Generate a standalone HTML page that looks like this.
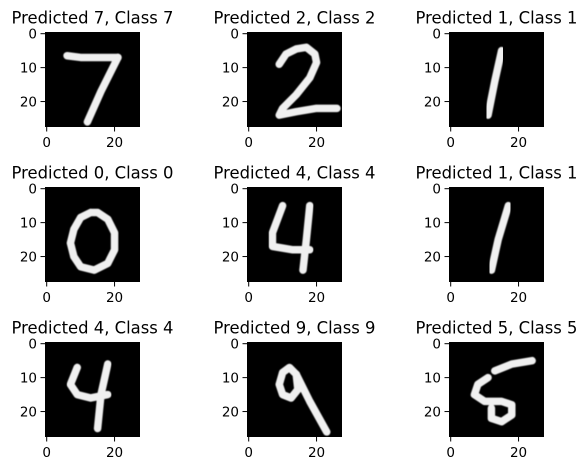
<!DOCTYPE html>
<html><head><meta charset="utf-8"><style>
html,body{margin:0;padding:0;background:#fff;}
svg{display:block;font-family:"DejaVu Sans","Liberation Sans",sans-serif;}
</style></head><body>
<svg id="fig" width="588" height="470" viewBox="0 0 588 470" xmlns="http://www.w3.org/2000/svg">
<defs><filter id="soft" x="-10%" y="-10%" width="120%" height="120%"><feGaussianBlur stdDeviation="0.4"/></filter></defs>
</svg>
<script>
const predicted = [7,2,1,0,4,1,4,9,5];
const actual = [7,2,1,0,4,1,4,9,5];
const tickValues = [0,10,20];
const xTickValues = [0,20];
// digit strokes in 28x28 pixel coordinates
const strokes = [
 [[[6,6.5],[10,7],[21,7]],[[21,7],[16,17],[12,26]]],
 [[[9,9],[11,6],[14,4.5],[17,4],[19.5,6],[20,8.5],[18,13],[14,18],[10,22],[9,24],[14,23],[20,22],[26,22]]],
 [[[15,5],[13,14],[11,24]]],
 [[[13,7],[10,8.5],[8,12],[7,16],[8,20],[10,23],[14,24],[18,22],[20,18],[20,13],[18,9],[15,7],[13,7]]],
 [[[10,5],[7,13],[7,17],[13,18],[18,18]],[[18,5],[17,15],[16,24]]],
 [[[17,5],[14,15],[12,24]]],
 [[[9,7],[7,12],[9,15],[13,16],[18,15]],[[18,6],[16,15],[15,25]]],
 [[[14,9],[12,7],[10,8.5],[9,12],[10,15],[12.5,16],[14.5,13.5],[14,9]],[[14,9],[18,17],[23,26]]],
 [[[13,8],[18,6],[24,5]],[[11,10],[8,12],[7,15],[10,17],[15,17],[18,18],[18,21],[15,23],[12,22],[12,19]]]
];
const colLeft = [45,247,449];
const rowTop = [32,187,342];
const size = 95, npx = 28;
const svg = document.getElementById('fig');
const NS = 'http://www.w3.org/2000/svg';
function mk(t, a){const e=document.createElementNS(NS,t);for(const k in a)e.setAttribute(k,a[k]);return e;}
for(let i=0;i<9;i++){
  const x0 = colLeft[i%3], y0 = rowTop[Math.floor(i/3)];
  const sx = v => x0 + (v+0.5)*size/npx;
  const sy = v => y0 + (v+0.5)*size/npx;
  const g = mk('g',{});
  
  
  svg.appendChild(g);
  const title = mk('text',{x:x0+size/2,y:y0-8.5,'text-anchor':'middle','font-size':'16.5',fill:'#000',textLength:162,lengthAdjust:'spacingAndGlyphs'});
  title.textContent = 'Predicted '+predicted[i]+', Class '+actual[i];
  
  
  g.appendChild(title);
  const img = mk('rect',{x:x0,y:y0,width:size,height:size,fill:'#000'});
  
  
  g.appendChild(img);
  const cp = mk('clipPath',{id:'c'+i}); cp.appendChild(mk('rect',{x:x0,y:y0,width:size,height:size})); svg.appendChild(cp);
  const dg = mk('g',{'clip-path':'url(#c'+i+')',filter:'url(#soft)'});
  
  
  g.appendChild(dg);
  strokes[i].forEach(s=>{
    const p = mk('polyline',{points:s.map(q=>sx(q[0])+','+sy(q[1])).join(' '),fill:'none',stroke:'#f0f0f0','stroke-width':7.5,'stroke-linecap':'round','stroke-linejoin':'round'});
    
    
    dg.appendChild(p);
  });
  tickValues.forEach(v=>{
    const y = sy(v);
    const t = mk('line',{x1:x0-4.5,x2:x0,y1:y,y2:y,stroke:'#000','stroke-width':1});
    
    
    g.appendChild(t);
    const l = mk('text',{x:x0-8,y:y+4.8,'text-anchor':'end','font-size':'13.5',fill:'#000'});
    l.textContent = v;
    
    
    g.appendChild(l);
  });
  xTickValues.forEach(v=>{
    const x = sx(v);
    const t = mk('line',{x1:x,x2:x,y1:y0+size,y2:y0+size+4.5,stroke:'#000','stroke-width':1});
    
    
    g.appendChild(t);
    const l = mk('text',{x:x,y:y0+size+20,'text-anchor':'middle','font-size':'13.5',fill:'#000'});
    l.textContent = v;
    
    
    g.appendChild(l);
  });
}
</script>
</body></html>
